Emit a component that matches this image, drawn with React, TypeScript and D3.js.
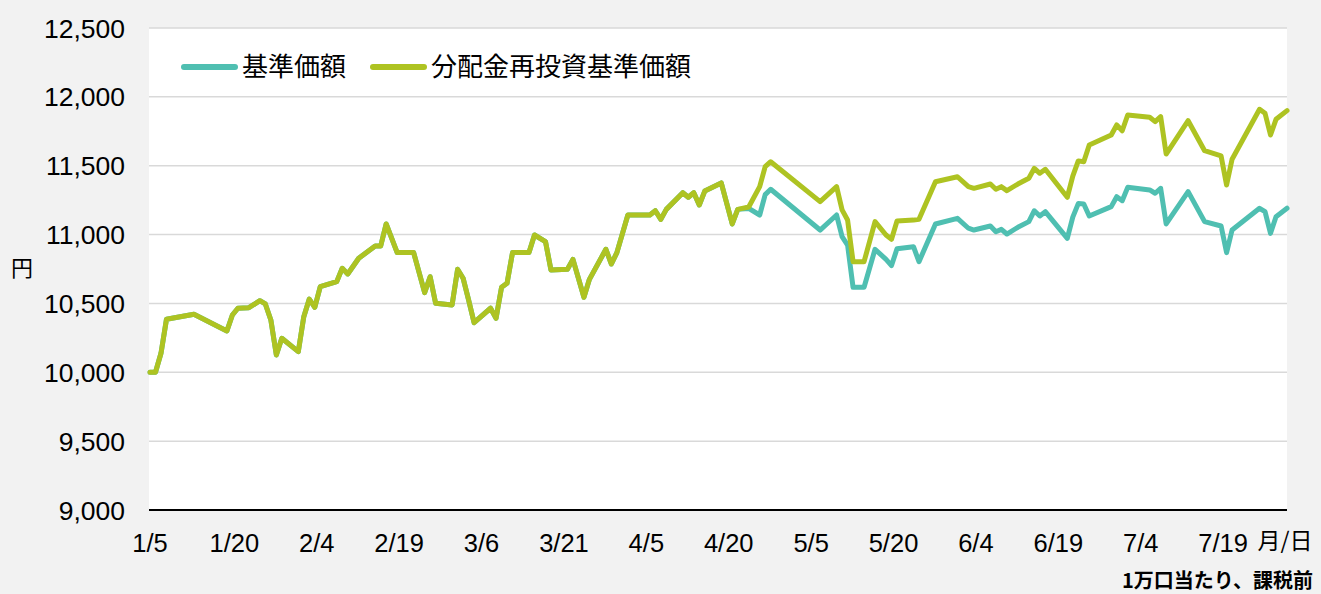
import React, { useMemo } from 'react';
import * as d3 from 'd3';

// dates 2023, month/day
const commonDates = [
  '1/5', '1/6', '1/7', '1/8', '1/13', '1/19', '1/20', '1/21', '1/23', '1/25', '1/26', '1/27', '1/28', '1/29',
  '2/1', '2/2', '2/3', '2/4', '2/5', '2/8', '2/9', '2/10', '2/12', '2/15', '2/16', '2/17', '2/19', '2/22', '2/24', '2/25', '2/26',
  '3/1', '3/2', '3/3', '3/4', '3/5', '3/8', '3/9', '3/10', '3/11', '3/12', '3/15', '3/16', '3/18', '3/19', '3/22', '3/23', '3/25', '3/26', '3/29', '3/30', '3/31',
  '4/2', '4/6', '4/7', '4/8', '4/9', '4/12', '4/13', '4/14', '4/15', '4/16', '4/19', '4/21', '4/22',
];
// before the first distribution both series are the same
const commonValues = [
  10000, 10000, 10138, 10385, 10421, 10300, 10416, 10465, 10469, 10520, 10496, 10380, 10126, 10247,
  10150, 10404, 10532, 10472, 10622, 10658, 10755, 10714, 10828, 10917, 10917, 11077, 10869, 10869, 10578, 10694, 10501,
  10489, 10748, 10683, 10525, 10360, 10465, 10392, 10617, 10646, 10869, 10869, 10997, 10949, 10743, 10748, 10820, 10545, 10675, 10893, 10786, 10869,
  11142, 11142, 11173, 11111, 11183, 11304, 11271, 11304, 11215, 11316, 11375, 11077, 11183,
];
const laterDates = [
  '4/24', '4/26', '4/27', '4/28',
  '5/7', '5/10', '5/11', '5/12', '5/13', '5/15', '5/17', '5/19', '5/20', '5/21', '5/24', '5/25', '5/28',
  '6/1', '6/3', '6/4', '6/7', '6/8', '6/9', '6/10', '6/12', '6/14', '6/15', '6/16', '6/17', '6/21', '6/22', '6/23', '6/24', '6/25', '6/29', '6/30',
  '7/1', '7/2', '7/6', '7/7', '7/8', '7/9', '7/13', '7/16', '7/19', '7/20', '7/21', '7/26', '7/27', '7/28', '7/29', '7/31',
];
const navLater = [
  11190, 11142, 11290, 11329,
  11033, 11142, 10985, 10924, 10617, 10617, 10893, 10820, 10775, 10897, 10912, 10803, 11077,
  11118, 11046, 11033, 11062, 11021, 11038, 11004, 11053, 11094, 11173, 11135, 11166, 10973, 11127, 11225, 11222, 11135, 11203, 11275,
  11246, 11343, 11324, 11300, 11336, 11077, 11312, 11094, 11062, 10869, 11033, 11191, 11166, 11009, 11130, 11191,
];
const reinvestLater = [
  11200, 11348, 11493, 11529,
  11239, 11348, 11179, 11106, 10803, 10803, 11094, 10997, 10966, 11098, 11105, 11111, 11384,
  11420, 11348, 11336, 11367, 11329, 11348, 11319, 11367, 11409, 11481, 11445, 11474, 11271, 11425, 11535, 11529, 11650, 11723, 11796,
  11754, 11868, 11852, 11820, 11856, 11585, 11827, 11609, 11571, 11360, 11547, 11910, 11881, 11723, 11837, 11900,
];

const xTickLabels = ['1/5', '1/20', '2/4', '2/19', '3/6', '3/21', '4/5', '4/20', '5/5', '5/20', '6/4', '6/19', '7/4', '7/19'];
const yTicks = [9000, 9500, 10000, 10500, 11000, 11500, 12000, 12500];

const TEAL = '#4fbfb1';
const GREEN = '#aec322';
const FONT = '"Liberation Sans", Arial, "Noto Sans CJK JP", sans-serif';
const JP_FONT = '"Noto Sans CJK JP", "Liberation Sans", sans-serif';

const parseMD = (s: string) => {
  const [m, d] = s.split('/').map(Number);
  return new Date(Date.UTC(2023, m - 1, d));
};

export default function App() {
  const width = 1321;
  const height = 594;
  const plot = { left: 149, right: 1287, top: 28, bottom: 510 };

  const x = d3.scaleUtc()
    .domain([parseMD('1/5'), parseMD('7/31')])
    .range([150, 1287]);
  const y = d3.scaleLinear().domain([9000, 12500]).range([plot.bottom, plot.top]);

  const { navPath, reinvestPath } = useMemo(() => {
    const dates = [...commonDates, ...laterDates].map(parseMD);
    const nav = [...commonValues, ...navLater];
    const reinvest = [...commonValues, ...reinvestLater];
    const line = d3.line<[Date, number]>()
      .x((d) => x(d[0]))
      .y((d) => y(d[1]));
    return {
      navPath: line(dates.map((d, i) => [d, nav[i]])) || '',
      reinvestPath: line(dates.map((d, i) => [d, reinvest[i]])) || '',
    };
  }, []);

  const fmt = d3.format(',');

  return (
    <svg width={width} height={height} style={{ position: 'absolute', left: 0, top: 0, display: 'block' }}>
      <rect x={0} y={0} width={width} height={height} fill="#f2f2f2" />
      <rect x={plot.left} y={plot.top} width={plot.right - plot.left} height={plot.bottom - plot.top} fill="#ffffff" />

      {/* gridlines */}
      {yTicks.filter((t) => t > 9000).map((t) => (
        <line key={t} x1={plot.left} x2={plot.right} y1={y(t)} y2={y(t)} stroke="#d9d9d9" strokeWidth={1.5} />
      ))}
      <line x1={plot.left} x2={plot.right} y1={plot.bottom} y2={plot.bottom} stroke="#000" strokeWidth={2} />

      {/* y axis labels */}
      {yTicks.map((t) => (
        <text key={t} x={125} y={y(t)} dy="0.36em" textAnchor="end" fontFamily={FONT} fontSize={26.5} fill="#000">
          {fmt(t)}
        </text>
      ))}
      <text x={22} y={268} dy="0.36em" textAnchor="middle" fontFamily={JP_FONT} fontSize={22} fill="#000">円</text>

      {/* x axis labels */}
      {xTickLabels.map((t, i) => (
        <text key={t} x={x(parseMD(t)) + (i === 0 ? 0 : 2)} y={543} dy="0.36em" textAnchor="middle" fontFamily={FONT} fontSize={25.5} fill="#000">
          {t}
        </text>
      ))}
      <text x={1285} y={541} dy="0.36em" textAnchor="middle" fontFamily={JP_FONT} fontSize={23} fill="#000">月/日</text>
      <text x={1313} y={581} dy="0.36em" textAnchor="end" fontFamily={JP_FONT} fontSize={20} fontWeight="bold" fill="#000">
        1万口当たり、課税前
      </text>

      {/* series */}
      <path d={navPath} fill="none" stroke={TEAL} strokeWidth={5} strokeLinejoin="round" strokeLinecap="round" />
      <path d={reinvestPath} fill="none" stroke={GREEN} strokeWidth={5} strokeLinejoin="round" strokeLinecap="round" />

      {/* legend */}
      <line x1={184} x2={235} y1={67} y2={67} stroke={TEAL} strokeWidth={6} strokeLinecap="round" />
      <text x={242} y={67} dy="0.36em" fontFamily={JP_FONT} fontSize={26} fill="#000">基準価額</text>
      <line x1={373} x2={424} y1={67} y2={67} stroke={GREEN} strokeWidth={6} strokeLinecap="round" />
      <text x={431} y={67} dy="0.36em" fontFamily={JP_FONT} fontSize={26} fill="#000">分配金再投資基準価額</text>
    </svg>
  );
}
